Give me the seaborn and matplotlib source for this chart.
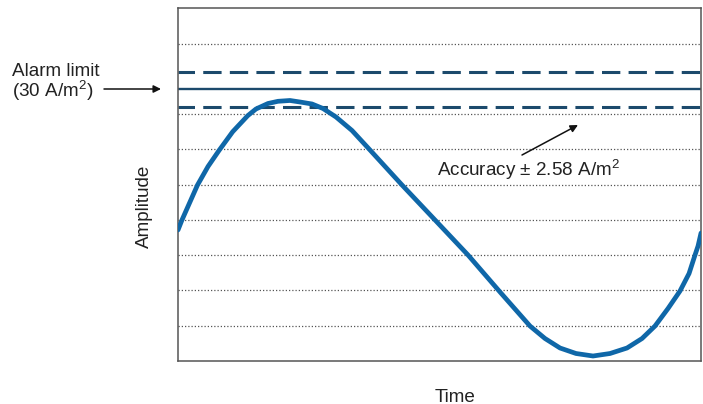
import matplotlib
matplotlib.use('Agg')

import pandas as pd
import seaborn as sns
import matplotlib.pyplot as plt

# curve (time 0..10, amplitude 0..10)
time = [0.0, 0.076, 0.373, 0.574, 0.784, 1.046, 1.333, 1.491, 1.721, 1.912,
        2.141, 2.333, 2.562, 2.772, 3.021, 3.327, 3.671, 4.283, 4.914,
        5.545, 6.157, 6.730, 7.017, 7.304, 7.610, 7.935, 8.260, 8.585, 8.872,
        9.120, 9.369, 9.598, 9.771, 9.885, 9.943, 10.0]
amplitude = [3.714, 3.998, 4.990, 5.515, 5.968, 6.501, 6.955, 7.145, 7.301, 7.363,
             7.386, 7.343, 7.287, 7.159, 6.918, 6.535, 5.982, 4.990, 3.998,
             3.005, 1.956, 0.992, 0.638, 0.369, 0.213, 0.142, 0.213, 0.369, 0.638,
             0.992, 1.489, 1.985, 2.481, 3.005, 3.261, 3.629]
grid_levels = [1, 2, 3, 4, 5, 6, 7, 9]
alarm_level = 7.70
accuracy_band = 0.49

sns.set_theme(style='white')
plt.rcParams['font.family'] = ['Liberation Sans', 'DejaVu Sans']
plt.rcParams['mathtext.fontset'] = 'custom'
plt.rcParams['mathtext.rm'] = 'Liberation Sans'
plt.rcParams['mathtext.it'] = 'Liberation Sans:italic'

plt.close('all')
fig = plt.figure(figsize=(7.03, 4.04), dpi=100)
ax = fig.add_axes([0.2532, 0.1064, 0.7440, 0.8731])

for g in grid_levels:
    ax.axhline(g, color='#555555', lw=0.9, ls=(0, (1, 1.6)), zorder=1)

ax.axhline(alarm_level, color='#1c4a6c', lw=1.7, zorder=2)
for off in (-accuracy_band, accuracy_band):
    ax.axhline(alarm_level + off, color='#1c4a6c', lw=2.2, ls=(0.6, (6, 2.7)), zorder=2)

df = pd.DataFrame({'Time': time, 'Amplitude': amplitude})
sns.lineplot(x='Time', y='Amplitude', data=df, ax=ax, color='#0f67a8', lw=3.4,
             sort=False, zorder=3)
ax.lines[-1].set_solid_joinstyle('round')

ax.set_xlim(0, 10)
ax.set_ylim(0, 10)
ax.set_xticks([])
ax.set_yticks([])
ax.set_xlabel('')
ax.set_ylabel('')
for s in ax.spines.values():
    s.set_color('#555555')
    s.set_linewidth(1.1)

W, H = 703, 404
def fx(x): return x / W
def fy(y): return 1 - y / H

fs = 13.6
fig.text(fx(12), fy(72), 'Alarm limit', fontsize=fs, color='#222222', va='center', ha='left')
fig.text(fx(12), fy(91), '(30 A/m$^{2}$)', fontsize=fs, color='#222222', va='center', ha='left')
fig.text(fx(437), fy(170), 'Accuracy ± 2.58 A/m$^{2}$', fontsize=fs, color='#222222', va='center', ha='left')
fig.text(fx(144), fy(206), 'Amplitude', fontsize=fs, color='#222222', va='center', ha='center', rotation=90)
fig.text(fx(455), fy(397), 'Time', fontsize=fs, color='#222222', va='center', ha='center')

arrow = dict(arrowstyle='-|>', color='#111111', lw=1.1, mutation_scale=11, shrinkA=0, shrinkB=0)
fig.add_artist(matplotlib.patches.FancyArrowPatch((fx(104), fy(89)), (fx(161), fy(89)),
                                                  transform=fig.transFigure, **arrow))
fig.add_artist(matplotlib.patches.FancyArrowPatch((fx(522), fy(155)), (fx(578), fy(125)),
                                                  transform=fig.transFigure, **arrow))

plt.savefig('out.png', dpi=100)
